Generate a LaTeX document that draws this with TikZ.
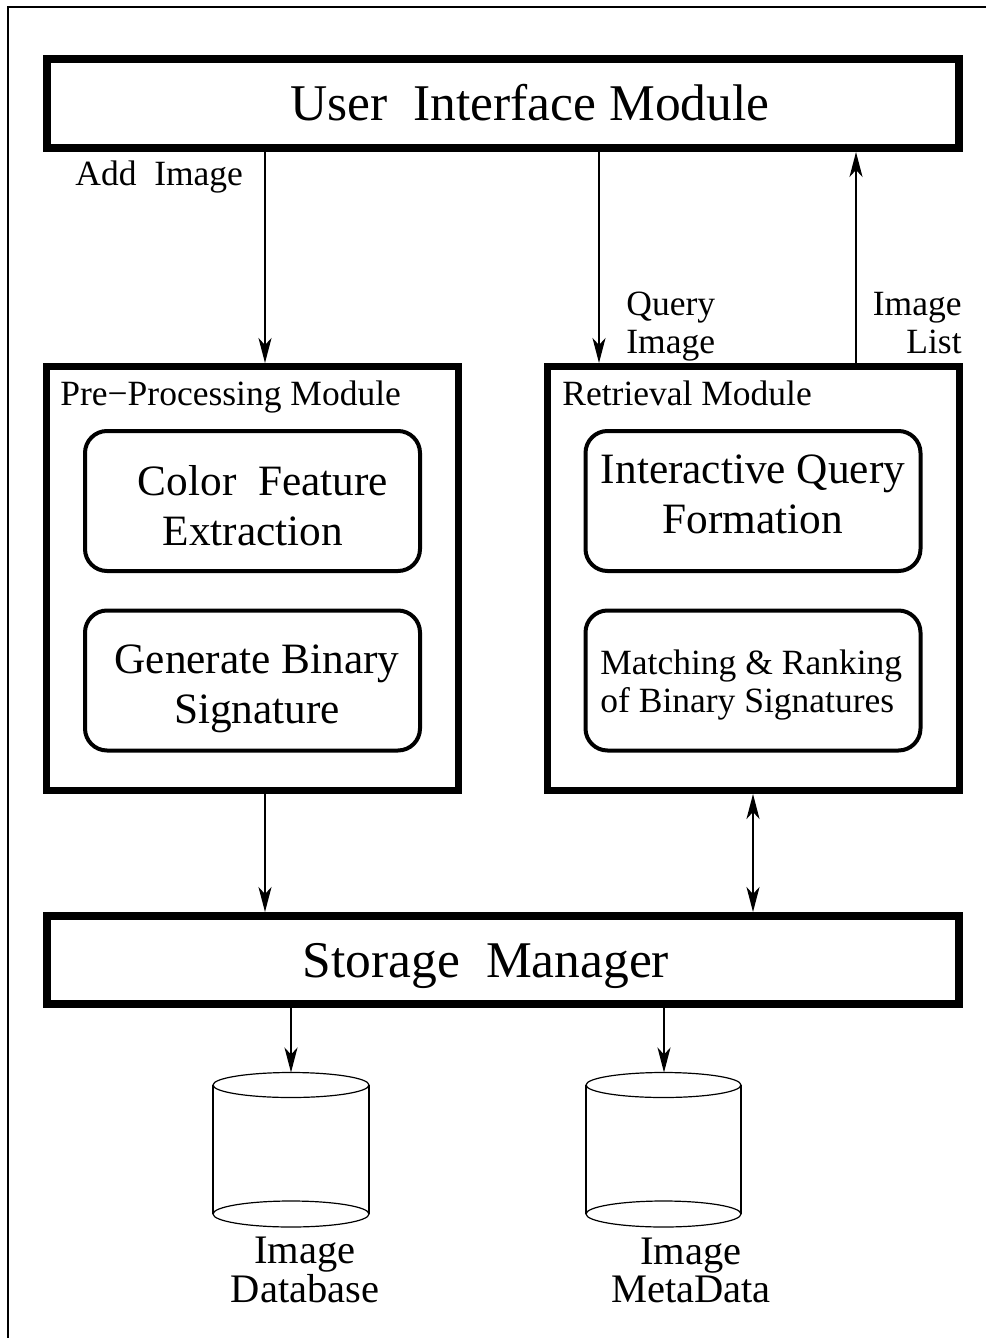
\documentclass[tikz,border=0pt]{standalone}
\usepackage{fontspec}
\setmainfont{Liberation Serif}
\usetikzlibrary{arrows.meta}

\newcommand\titlefont{\fontsize{25.75}{30}\selectfont}
\newcommand\boxfont{\fontsize{21.65}{25}\selectfont}
\newcommand\lblfont{\fontsize{17.75}{19}\selectfont}
\newcommand\dbfont{\fontsize{20.25}{17.5}\selectfont}

\begin{document}
\begin{tikzpicture}[x=0.5pt,y=-0.5pt,
  >={Stealth[length=12.5pt,width=6.5pt,inset=3.5pt]},
  widebox/.style={draw, line width=4pt, inner sep=0pt, minimum width=456pt, minimum height=44.5pt},
  modbox/.style={draw, line width=3.5pt, inner sep=0pt, minimum width=206pt, minimum height=212pt},
  subbox/.style={draw, line width=2pt, rounded corners=11pt, inner sep=0pt, minimum width=167.5pt, minimum height=70pt},
  arr/.style={line width=1pt, ->},
  cyl/.style={line width=0.6pt},
  lbl/.style={inner sep=0pt, font=\lblfont}]
  \useasboundingbox (0,0) rectangle (986,1338);
  % page frame (right and bottom sides fall outside)
  \draw[line width=1.2pt] (986,7) -- (8,7) -- (8,1338);

  % modules
  \node[widebox] (ui) at (503,103.5) {};
  \node[modbox] (pre) at (252.5,578.5) {};
  \node[modbox] (ret) at (753.5,578.5) {};
  \node[widebox, minimum height=44pt] (sm) at (503,960) {};

  \node[subbox] (color) at (252.5,501) {};
  \node[subbox] (gen) at (252.5,680.5) {};
  \node[subbox] (iqf) at (753,501) {};
  \node[subbox] (match) at (753,680.5) {};

  % texts (multi-line nodes sit on the baseline of their last line)
  \node[inner sep=0pt, font=\titlefont, anchor=base] (uitxt) at (530,120) {User~~Interface Module};
  \node[inner sep=0pt, font=\titlefont, anchor=base] (smtxt) at (486,977) {Storage~~Manager};
  \node[lbl, anchor=base west] (pretxt) at (60,405) {Pre−Processing Module};
  \node[lbl, anchor=base west] (rettxt) at (562,405) {Retrieval Module};
  \node[inner sep=0pt, font=\boxfont, align=center, anchor=base] (colortxt) at (253,545)
    {\hspace*{10pt}Color~~Feature\\Extraction};
  \node[inner sep=0pt, font=\boxfont, align=center, anchor=base] (gentxt) at (257,723)
    {Generate Binary\\Signature};
  \node[inner sep=0pt, font=\boxfont, align=center, anchor=base] (iqftxt) at (753,533)
    {Interactive Query\\Formation};
  \node[lbl, align=left, anchor=base west] (matchtxt) at (600,712)
    {Matching \& Ranking\\of Binary Signatures};

  % arrow positions
  \coordinate (addx) at (265,0);
  \coordinate (qx) at (599,0);
  \coordinate (listx) at (856,0);
  \coordinate (bix) at (753,0);
  \coordinate (dbtop) at (291,1072.5);
  \coordinate (metatop) at (664,1072.5);

  \draw[arr] (ui.south -| addx) -- (pre.north -| addx);
  \draw[arr] (ui.south -| qx) -- (ret.north -| qx);
  \draw[arr] (ret.north -| listx) -- (ui.south -| listx);
  \draw[arr] (pre.south -| addx) -- (sm.north -| addx);
  \draw[arr, <->] (ret.south -| bix) -- (sm.north -| bix);
  \draw[arr] (sm.south -| dbtop) -- (dbtop);
  \draw[arr] (sm.south -| metatop) -- (metatop);

  \node[lbl, anchor=base west] (addlbl) at (75,185) {Add~~Image};
  \node[lbl, align=left, anchor=base west] (qlbl) at (626,353) {Query\\Image};
  \node[lbl, align=right, anchor=base east] (listlbl) at (962,353) {Image\\List};

  % storage cylinders
  \draw[cyl] (291,1085) ellipse [x radius=39pt, y radius=6.25pt];
  \draw[cyl] (291,1214) ellipse [x radius=39pt, y radius=6.5pt];
  \draw[cyl] (213,1085) -- (213,1214) (369,1085) -- (369,1214);
  \draw[cyl] (663.5,1085) ellipse [x radius=38.75pt, y radius=6.25pt];
  \draw[cyl] (663.5,1214) ellipse [x radius=38.75pt, y radius=6.5pt];
  \draw[cyl] (586,1085) -- (586,1214) (741,1085) -- (741,1214);

  \node[inner sep=0pt, font=\dbfont, align=center, anchor=base] (dblbl) at (305,1302) {Image\\Database};
  \node[inner sep=0pt, font=\dbfont, align=center, anchor=base] (metalbl) at (691,1302) {Image\\MetaData};
\end{tikzpicture}
\end{document}
